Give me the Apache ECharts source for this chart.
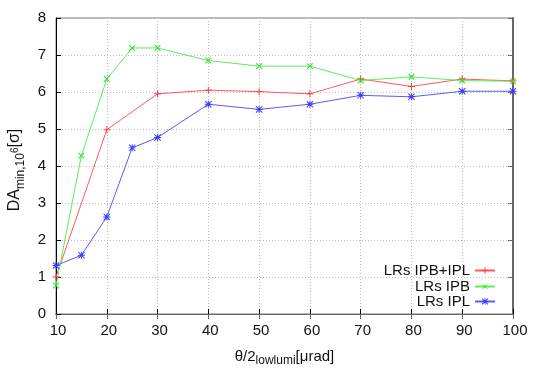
<!DOCTYPE html>
<html>
<head>
<meta charset="utf-8">
<script src="https://cdn.jsdelivr.net/npm/echarts@6/dist/echarts.min.js"></script>
<style>html,body{margin:0;padding:0;background:#fff}#c{width:540px;height:378px}</style>
</head>
<body>
<div id="c"></div>
<script>
// x positions (theta/2 lowlumi, µrad)
const xRed = [10, 20, 30, 40, 50, 60, 70, 80, 90, 100];
const xFull = [10, 15, 20, 25, 30, 40, 50, 60, 70, 80, 90, 100];
// DA min values
const ipbIpl = [1.0, 4.98, 5.95, 6.05, 6.01, 5.95, 6.35, 6.15, 6.35, 6.30];
const ipb = [0.77, 4.28, 6.35, 7.19, 7.19, 6.85, 6.70, 6.70, 6.31, 6.41, 6.31, 6.29];
const ipl = [1.31, 1.59, 2.62, 4.49, 4.77, 5.67, 5.53, 5.67, 5.91, 5.87, 6.02, 6.02];
const seriesNames = ['LRs IPB+IPL', 'LRs IPB', 'LRs IPL'];
const xTicks = [10, 20, 30, 40, 50, 60, 70, 80, 90, 100];
const yTicks = [0, 1, 2, 3, 4, 5, 6, 7, 8];

const pair = (xs, ys) => xs.map((x, i) => [x, ys[i]]);
const plusSym = 'path://M4.3,0h1.4v10h-1.4zM0,4.3h10v1.4h-10z';
const starSym = 'path://M4.3,0h1.4v10h-1.4zM0,4.3h10v1.4h-10zM0,1L1,0L10,9L9,10zM9,0L10,1L1,10L0,9z';

const font = 'Liberation Sans, Arial, sans-serif';
const chart = echarts.init(document.getElementById('c'), null, {renderer: 'canvas'});

const gridLine = {show: true, lineStyle: {color: '#bdbdbd', type: [1, 2], width: 1}};
const legendCommon = {orient: 'vertical', align: 'right', right: 44, itemWidth: 20, itemHeight: 8,
  textStyle: {fontFamily: font, fontSize: 15, color: '#111'}, padding: 0, itemGap: 0};

chart.setOption({
  animation: false,
  backgroundColor: '#fff',
  grid: {left: 56, right: 27, top: 18, bottom: 64, containLabel: false, outerBoundsMode: 'none',
    show: true, borderColor: '#777', borderWidth: 1},
  legend: [
    Object.assign({}, legendCommon, {top: 263, data: [seriesNames[0]]}),
    Object.assign({}, legendCommon, {top: 279, data: [seriesNames[1]]}),
    Object.assign({}, legendCommon, {top: 294, data: [seriesNames[2]]})
  ],
  xAxis: [{
    type: 'value', min: xTicks[0], max: xTicks[xTicks.length - 1], interval: 10,
    name: 'θ/2{sub|lowlumi}[μrad]', nameLocation: 'middle', nameGap: 32,
    nameTextStyle: {fontFamily: font, fontSize: 15, color: '#111',
      rich: {sub: {fontFamily: font, fontSize: 12, color: '#111', verticalAlign: 'bottom', padding: [9, 0, 0, 0]}}},
    axisLine: {lineStyle: {color: '#000', width: 1}},
    axisTick: {inside: true, length: 5, lineStyle: {color: '#000'}},
    axisLabel: {fontFamily: font, fontSize: 15, color: '#111', margin: 9, padding: [0, 0, 0, 4]},
    splitLine: gridLine
  }, {
    type: 'value', position: 'top', min: xTicks[0], max: xTicks[xTicks.length - 1], interval: 10,
    axisLine: {show: true, lineStyle: {color: '#666'}},
    axisTick: {show: true, inside: true, length: 5, lineStyle: {color: '#666'}},
    axisLabel: {show: false}, splitLine: {show: false}
  }],
  yAxis: [{
    type: 'value', min: yTicks[0], max: yTicks[yTicks.length - 1], interval: 1,
    name: 'DA{sub|min,10}{sup|6}[σ]', nameLocation: 'middle', nameGap: 27,
    nameTextStyle: {fontFamily: font, fontSize: 16, color: '#111', lineHeight: 24, padding: [0, 8, 0, 0],
      rich: {
        sub: {fontFamily: font, fontSize: 12, color: '#111', verticalAlign: 'bottom', lineHeight: 24},
        sup: {fontFamily: font, fontSize: 10, color: '#111', verticalAlign: 'middle', lineHeight: 24}
      }},
    axisLine: {show: true, lineStyle: {color: '#000', width: 1}},
    axisTick: {show: true, inside: true, length: 5, lineStyle: {color: '#000'}},
    axisLabel: {fontFamily: font, fontSize: 15, color: '#111', margin: 10},
    splitLine: gridLine
  }, {
    type: 'value', position: 'right', min: yTicks[0], max: yTicks[yTicks.length - 1], interval: 1,
    axisLine: {show: true, lineStyle: {color: '#666', width: 2}},
    axisTick: {show: true, inside: true, length: 5, lineStyle: {color: '#666'}},
    axisLabel: {show: false}, splitLine: {show: false}
  }],
  series: [{
    name: seriesNames[0], type: 'line', data: pair(xRed, ipbIpl),
    symbol: plusSym, symbolSize: 7, color: '#ff5a5a',
    lineStyle: {width: 1, color: '#ff5a5a'}, itemStyle: {color: '#ff3a3a'}
  }, {
    name: seriesNames[1], type: 'line', data: pair(xFull, ipb),
    symbol: plusSym, symbolRotate: 45, symbolSize: 8, color: '#5aee5a',
    lineStyle: {width: 1, color: '#5aee5a'}, itemStyle: {color: '#38dd38'}
  }, {
    name: seriesNames[2], type: 'line', data: pair(xFull, ipl),
    symbol: starSym, symbolSize: 7, color: '#5a5aff',
    lineStyle: {width: 1, color: '#5a5aff'}, itemStyle: {color: '#3a3aff'}
  }]
});
</script>
</body>
</html>
